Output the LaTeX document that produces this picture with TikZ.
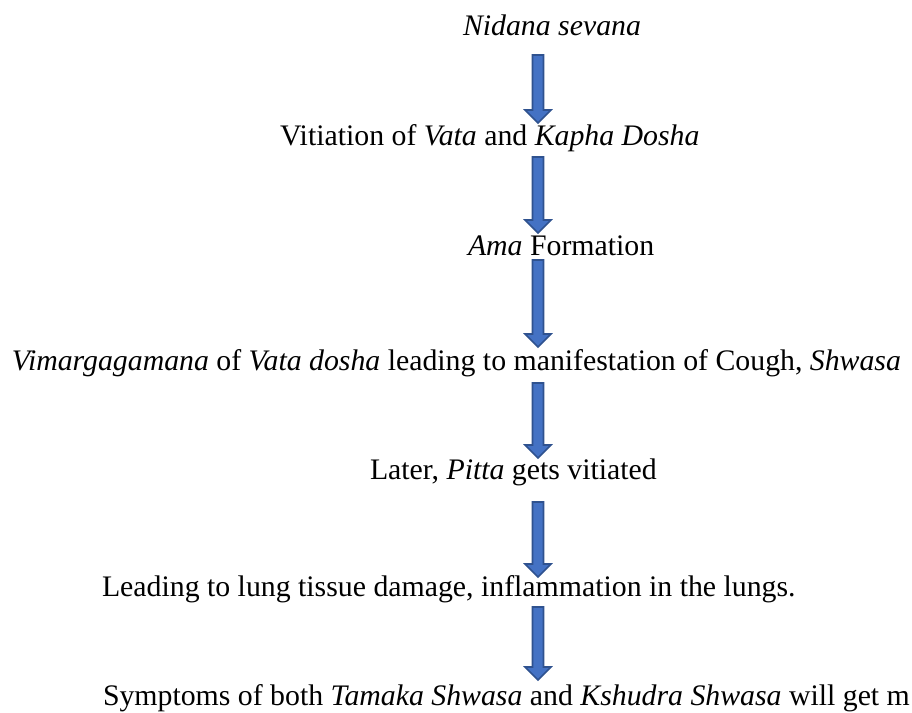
\documentclass[tikz,border=0pt]{standalone}
\usepackage{fontspec}
\setmainfont{Liberation Serif}
\tikzset{
  txt/.style={anchor=base west, inner sep=0pt, outer sep=0pt, font=\fontsize{29.8}{35}\selectfont},
  barrowstyle/.style={draw={rgb,255:red,47;green,82;blue,143}, fill={rgb,255:red,68;green,114;blue,196}, line width=1.6pt, line join=miter}
}
\newcommand\myblockarrow[2]{%
  \draw[barrowstyle] (532.5,#1) -- (543.5,#1) -- (543.5,{#2-13}) -- (551,{#2-13}) -- (538,#2) -- (525,{#2-13}) -- (532.5,{#2-13}) -- cycle;}
\begin{document}
\begin{tikzpicture}[x=1pt,y=-1pt]
\useasboundingbox[fill=white] (0,0) rectangle (912,712);
\node[txt] (t1) at (463,35) {\textit{Nidana sevana}};
\node[txt] (t2) at (280,145) {Vitiation of \textit{Vata} and \textit{Kapha Dosha}};
\node[txt] (t3) at (468,255) {\textit{Ama} Formation};
\node[txt] (t4) at (12,370) {\textit{Vimargagamana} of \textit{Vata dosha} leading to manifestation of Cough, \textit{Shwasa}};
\node[txt] (t5) at (370,479) {Later, \textit{Pitta} gets vitiated};
\node[txt] (t6) at (102,596) {Leading to lung tissue damage, inflammation in the lungs.};
\node[txt] (t7) at (103,705) {Symptoms of both \textit{Tamaka Shwasa} and \textit{Kshudra Shwasa} will get m};
\myblockarrow{55}{123}
\myblockarrow{157}{233}
\myblockarrow{260}{347}
\myblockarrow{383}{458}
\myblockarrow{502}{577}
\myblockarrow{607}{680}
\end{tikzpicture}
\end{document}
